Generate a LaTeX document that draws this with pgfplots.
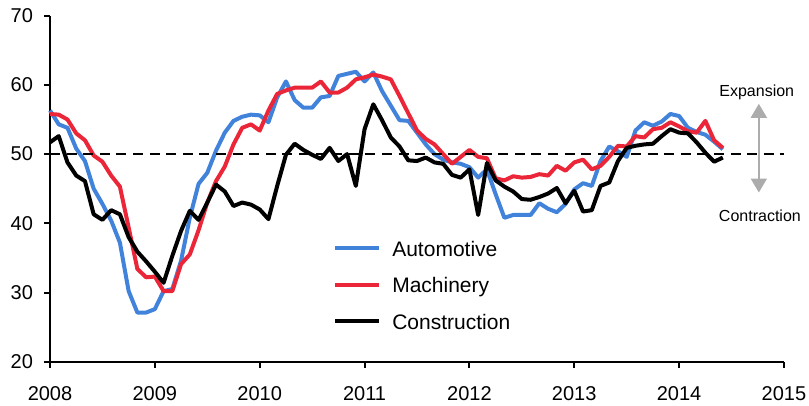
\documentclass[border=0pt]{standalone}
\usepackage{fontspec}
\setmainfont{Liberation Sans}
\usepackage{pgfplots}
\usepackage{pgfplotstable}
\pgfplotsset{compat=1.18}
\usetikzlibrary{arrows.meta}

\definecolor{autoblue}{RGB}{65,131,219}
\definecolor{machred}{RGB}{234,38,56}
\definecolor{arrowgray}{RGB}{172,172,172}

% month index from Jan 2008, automotive, machinery, construction
\pgfplotstableread{
t  auto mach cons
0  56.3 55.8 51.7
1  54.3 55.7 52.6
2  53.8 55.0 48.8
3  50.8 53.0 46.9
4  49.0 52.0 46.1
5  45.0 49.8 41.3
6  42.8 48.9 40.5
7  40.4 46.9 41.9
8  37.2 45.3 41.3
9  30.2 39.4 38.0
10 27.1 33.4 35.9
11 27.1 32.2 34.5
12 27.6 32.3 33.0
13 30.2 30.2 31.4
14 30.5 30.2 35.3
15 34.6 34.1 38.9
16 40.8 35.5 41.8
17 45.7 39.0 40.5
18 47.3 43.0 43.0
19 50.5 46.1 45.6
20 53.1 48.2 44.6
21 54.8 51.4 42.5
22 55.4 53.8 43.0
23 55.7 54.3 42.7
24 55.6 53.4 42.0
25 54.6 56.3 40.6
26 58.2 58.7 45.4
27 60.5 59.2 49.9
28 57.8 59.6 51.5
29 56.7 59.6 50.6
30 56.7 59.6 49.9
31 58.2 60.5 49.3
32 58.4 58.9 50.9
33 61.3 58.9 49.0
34 61.6 59.6 50.0
35 61.9 60.8 45.4
36 60.5 61.1 53.6
37 61.8 61.5 57.2
38 59.1 61.2 54.9
39 57.0 60.8 52.4
40 54.9 58.4 51.1
41 54.8 55.9 49.1
42 53.1 53.4 49.0
43 51.4 52.2 49.5
44 50.0 51.4 48.8
45 49.2 50.0 48.6
46 48.8 48.6 47.0
47 48.6 49.6 46.6
48 48.1 50.6 47.8
49 46.6 49.6 41.2
50 47.8 49.4 48.7
51 44.2 46.5 46.2
52 40.8 46.2 45.3
53 41.2 46.8 44.6
54 41.2 46.6 43.5
55 41.2 46.7 43.4
56 42.9 47.1 43.8
57 42.1 46.9 44.3
58 41.6 48.3 45.1
59 42.8 47.6 42.9
60 44.9 48.8 44.7
61 45.8 49.2 41.7
62 45.4 47.8 41.9
63 49.0 48.3 45.4
64 51.1 49.6 45.9
65 50.4 51.2 49.0
66 49.6 51.1 50.9
67 53.4 52.6 51.2
68 54.6 52.4 51.4
69 54.1 53.6 51.5
70 54.7 53.8 52.6
71 55.8 54.6 53.6
72 55.5 54.0 53.1
73 53.8 53.3 53.0
74 53.2 53.1 51.7
75 52.8 54.8 50.2
76 51.8 52.0 48.9
77 50.7 50.9 49.5
}\pmidata

\begin{document}
\begin{tikzpicture}
\begin{axis}[
    name=ax,
    scale only axis,
    width=367pt,
    height=173pt,
    xmin=2008, xmax=2015,
    ymin=20, ymax=70,
    axis x line=bottom,
    axis y line=left,
    axis line style={-, line width=1pt},
    xtick={2008,2009,...,2015},
    ytick={20,30,...,70},
    tick align=outside,
    major tick length=3pt,
    tick style={black, line width=1pt},
    /pgf/number format/1000 sep={},
    /pgf/number format/assume math mode=true,
    tick label style={font=\fontsize{10}{12}\selectfont},
    xticklabel style={yshift=-6pt},
    yticklabel style={xshift=-2pt},
    clip=false,
    legend style={
        draw=none, fill=none, inner sep=0pt,
        at={(axis cs:2010.698,37.5)}, anchor=north west,
        font=\fontsize{10.5}{12}\selectfont,
        nodes={inner sep=0pt, text height=7.5pt, text depth=2.5pt, anchor=base west},
        column sep=5.5pt,
        row sep=8.25pt,
    },
    legend cell align=left,
    legend image code/.code={\draw[#1] (0pt,4pt) -- (22pt,4pt);},
    every axis plot/.append style={line width=2pt, line join=round},
]
\addplot[autoblue] table[x expr=2008+\thisrow{t}/12, y=auto] {\pmidata};
\addlegendentry{Automotive}
\addplot[machred] table[x expr=2008+\thisrow{t}/12, y=mach] {\pmidata};
\addlegendentry{Machinery}
\addplot[black] table[x expr=2008+\thisrow{t}/12, y=cons] {\pmidata};
\addlegendentry{Construction}
\addplot[black, line width=1.1pt, dash pattern=on 5pt off 3.3pt, forget plot]
    coordinates {(2008,50) (2015,50)};
\draw[arrowgray, line width=1pt, {Triangle[width=8pt,length=7pt]}-{Triangle[width=8pt,length=7pt]}]
    (axis cs:2014.76,57.27) -- (axis cs:2014.76,44.45);
\node[font=\fontsize{8}{10}\selectfont] at (axis cs:2014.74,58.86) {Expansion};
\node[font=\fontsize{8}{10}\selectfont] at (axis cs:2014.77,41.08) {Contraction};
\end{axis}
\pgfresetboundingbox
\path[use as bounding box] ([xshift=-25pt,yshift=-22pt]ax.south west)
    rectangle ([xshift=12.5pt,yshift=7.85pt]ax.north east);
\end{tikzpicture}
\end{document}
